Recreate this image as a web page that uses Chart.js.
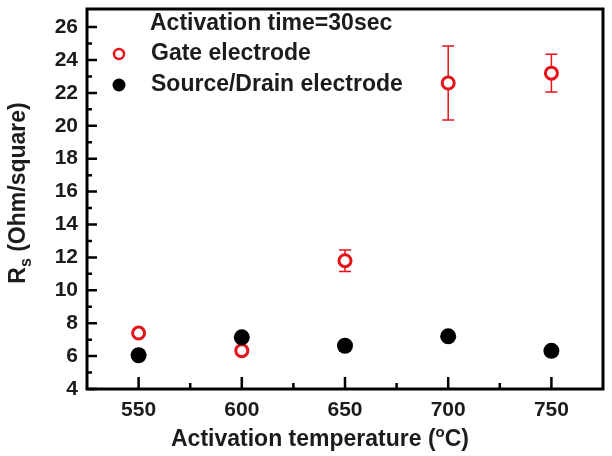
<!DOCTYPE html>
<html>
<head>
<meta charset="utf-8">
<script src="https://cdn.jsdelivr.net/npm/chart.js@4/dist/chart.umd.min.js"></script>
<style>
  html, body { margin: 0; padding: 0; background: #fff; }
  #wrap { width: 612px; height: 456px; }
</style>
</head>
<body>
<div id="wrap"><canvas id="c" width="612" height="456"></canvas></div>
<script>
// ---- data ----
const temperatures = [550, 600, 650, 700, 750];
const gateValues = [7.4, 6.33, 11.8, 22.6, 23.2];
const gateErrors = [0.15, 0.1, 0.65, 2.25, 1.15];
const sdValues = [6.05, 7.14, 6.63, 7.2, 6.32];
const sdErrors = [0.1, 0.12, 0.3, 0.15, 0.1];
const xTickValues = [550, 600, 650, 700, 750];
const xMinorTicks = [575, 625, 675, 725];
const yTickValues = [4, 6, 8, 10, 12, 14, 16, 18, 20, 22, 24, 26];
const yMinorTicks = [5, 7, 9, 11, 13, 15, 17, 19, 21, 23, 25, 27];
const legendTitle = 'Activation time=30sec';
const gateLabel = 'Gate electrode';
const sdLabel = 'Source/Drain electrode';

const RED = '#e5141b';
const FONT = '"Liberation Sans", Arial, sans-serif';
const TXT = '#1c1c1c';

const errorBars = {
  id: 'errorBars',
  beforeDatasetsDraw(chart) {
    const ctx = chart.ctx, ys = chart.scales.y, xs = chart.scales.x;
    const sets = [[gateValues, gateErrors, RED], [sdValues, sdErrors, '#000']];
    ctx.save();
    for (const [vals, errs, col] of sets) {
      ctx.strokeStyle = col; ctx.lineWidth = 1.5;
      vals.forEach((v, i) => {
        const px = xs.getPixelForValue(temperatures[i]);
        const top = ys.getPixelForValue(v + errs[i]);
        const bot = ys.getPixelForValue(v - errs[i]);
        ctx.beginPath();
        ctx.moveTo(px, top); ctx.lineTo(px, bot);
        ctx.moveTo(px - 6, top); ctx.lineTo(px + 6, top);
        ctx.moveTo(px - 6, bot); ctx.lineTo(px + 6, bot);
        ctx.stroke();
      });
    }
    ctx.restore();
  },
  afterDraw(chart) {
    const ctx = chart.ctx, a = chart.chartArea, xs = chart.scales.x, ys = chart.scales.y;
    ctx.save();
    // frame
    ctx.strokeStyle = '#000'; ctx.lineWidth = 3;
    ctx.strokeRect(a.left, a.top, a.right - a.left, a.bottom - a.top);
    // ticks (inward)
    ctx.lineWidth = 2.5;
    ctx.beginPath();
    yTickValues.forEach(v => { const p = ys.getPixelForValue(v); ctx.moveTo(a.left, p); ctx.lineTo(a.left + 10, p); });
    yMinorTicks.forEach(v => { const p = ys.getPixelForValue(v); if (p > a.top + 2) { ctx.moveTo(a.left, p); ctx.lineTo(a.left + 5, p); } });
    xTickValues.forEach(v => { const p = xs.getPixelForValue(v); ctx.moveTo(p, a.bottom); ctx.lineTo(p, a.bottom - 12); });
    xMinorTicks.forEach(v => { const p = xs.getPixelForValue(v); ctx.moveTo(p, a.bottom); ctx.lineTo(p, a.bottom - 6); });
    ctx.stroke();

    // legend
    ctx.fillStyle = TXT;
    ctx.font = 'bold 23px ' + FONT;
    ctx.textBaseline = 'middle'; ctx.textAlign = 'left';
    ctx.fillText(legendTitle, 150, 24);
    ctx.fillText(gateLabel, 151, 54);
    ctx.fillText(sdLabel, 151, 85);
    ctx.beginPath(); ctx.arc(119, 54, 5, 0, Math.PI * 2);
    ctx.fillStyle = '#fff'; ctx.fill(); ctx.strokeStyle = RED; ctx.lineWidth = 2.5; ctx.stroke();
    ctx.beginPath(); ctx.arc(119, 85, 6.5, 0, Math.PI * 2);
    ctx.fillStyle = '#000'; ctx.fill();

    // x title
    ctx.fillStyle = TXT;
    ctx.textBaseline = 'alphabetic';
    const p1 = 'Activation temperature (', sup = 'o', p2 = 'C)';
    ctx.font = 'bold 23px ' + FONT;
    const w1 = ctx.measureText(p1).width, w3 = ctx.measureText(p2).width;
    ctx.font = 'bold 15px ' + FONT;
    const w2 = ctx.measureText(sup).width;
    let x0 = 320 - (w1 + w2 + w3) / 2;
    const by = 446;
    ctx.font = 'bold 23px ' + FONT; ctx.fillText(p1, x0, by); x0 += w1;
    ctx.font = 'bold 15px ' + FONT; ctx.fillText(sup, x0, by - 9); x0 += w2;
    ctx.font = 'bold 23px ' + FONT; ctx.fillText(p2, x0, by);

    // y title
    ctx.save();
    ctx.translate(17, 193);
    ctx.rotate(-Math.PI / 2);
    const r = 'R', s = 's', rest = ' (Ohm/square)';
    ctx.font = 'bold 23px ' + FONT;
    const wr = ctx.measureText(r).width, wrest = ctx.measureText(rest).width;
    ctx.font = 'bold 16px ' + FONT;
    const ws = ctx.measureText(s).width;
    let t = -(wr + ws + wrest) / 2;
    const bl = 8;
    ctx.font = 'bold 23px ' + FONT; ctx.fillText(r, t, bl); t += wr;
    ctx.font = 'bold 16px ' + FONT; ctx.fillText(s, t, bl + 6); t += ws;
    ctx.font = 'bold 23px ' + FONT; ctx.fillText(rest, t, bl);
    ctx.restore();

    ctx.restore();
  }
};

new Chart(document.getElementById('c'), {
  type: 'scatter',
  data: {
    datasets: [
      {
        label: sdLabel,
        data: temperatures.map((t, i) => ({ x: t, y: sdValues[i] })),
        pointRadius: 8, pointHoverRadius: 8,
        backgroundColor: '#000', borderColor: '#000', borderWidth: 0
      },
      {
        label: gateLabel,
        data: temperatures.map((t, i) => ({ x: t, y: gateValues[i] })),
        pointRadius: 6, pointHoverRadius: 6,
        backgroundColor: '#fff', borderColor: RED, borderWidth: 3
      }
    ]
  },
  options: {
    responsive: false,
    devicePixelRatio: 1,
    animation: false,
    events: [],
    layout: { padding: { top: 5, right: 8, left: 0, bottom: 0 } },
    plugins: { legend: { display: false }, tooltip: { enabled: false }, title: { display: false } },
    scales: {
      x: {
        type: 'linear', min: 525, max: 775,
        grid: { display: false, drawTicks: false },
        border: { display: false },
        ticks: { font: { family: FONT, size: 21, weight: 'bold' }, color: TXT, padding: 9, maxRotation: 0 },
        afterBuildTicks: s => { s.ticks = xTickValues.map(v => ({ value: v })); },
        afterFit: s => { s.height = 67; s.paddingLeft = 0; s.paddingRight = 0; }
      },
      y: {
        type: 'linear', min: 4, max: 27.1,
        grid: { display: false, drawTicks: false },
        border: { display: false },
        ticks: { font: { family: FONT, size: 21, weight: 'bold' }, color: TXT, padding: 9 },
        afterBuildTicks: s => { s.ticks = yTickValues.map(v => ({ value: v })); },
        afterFit: s => { s.width = 87; s.paddingTop = 0; s.paddingBottom = 0; }
      }
    }
  },
  plugins: [errorBars]
});
</script>
</body>
</html>
